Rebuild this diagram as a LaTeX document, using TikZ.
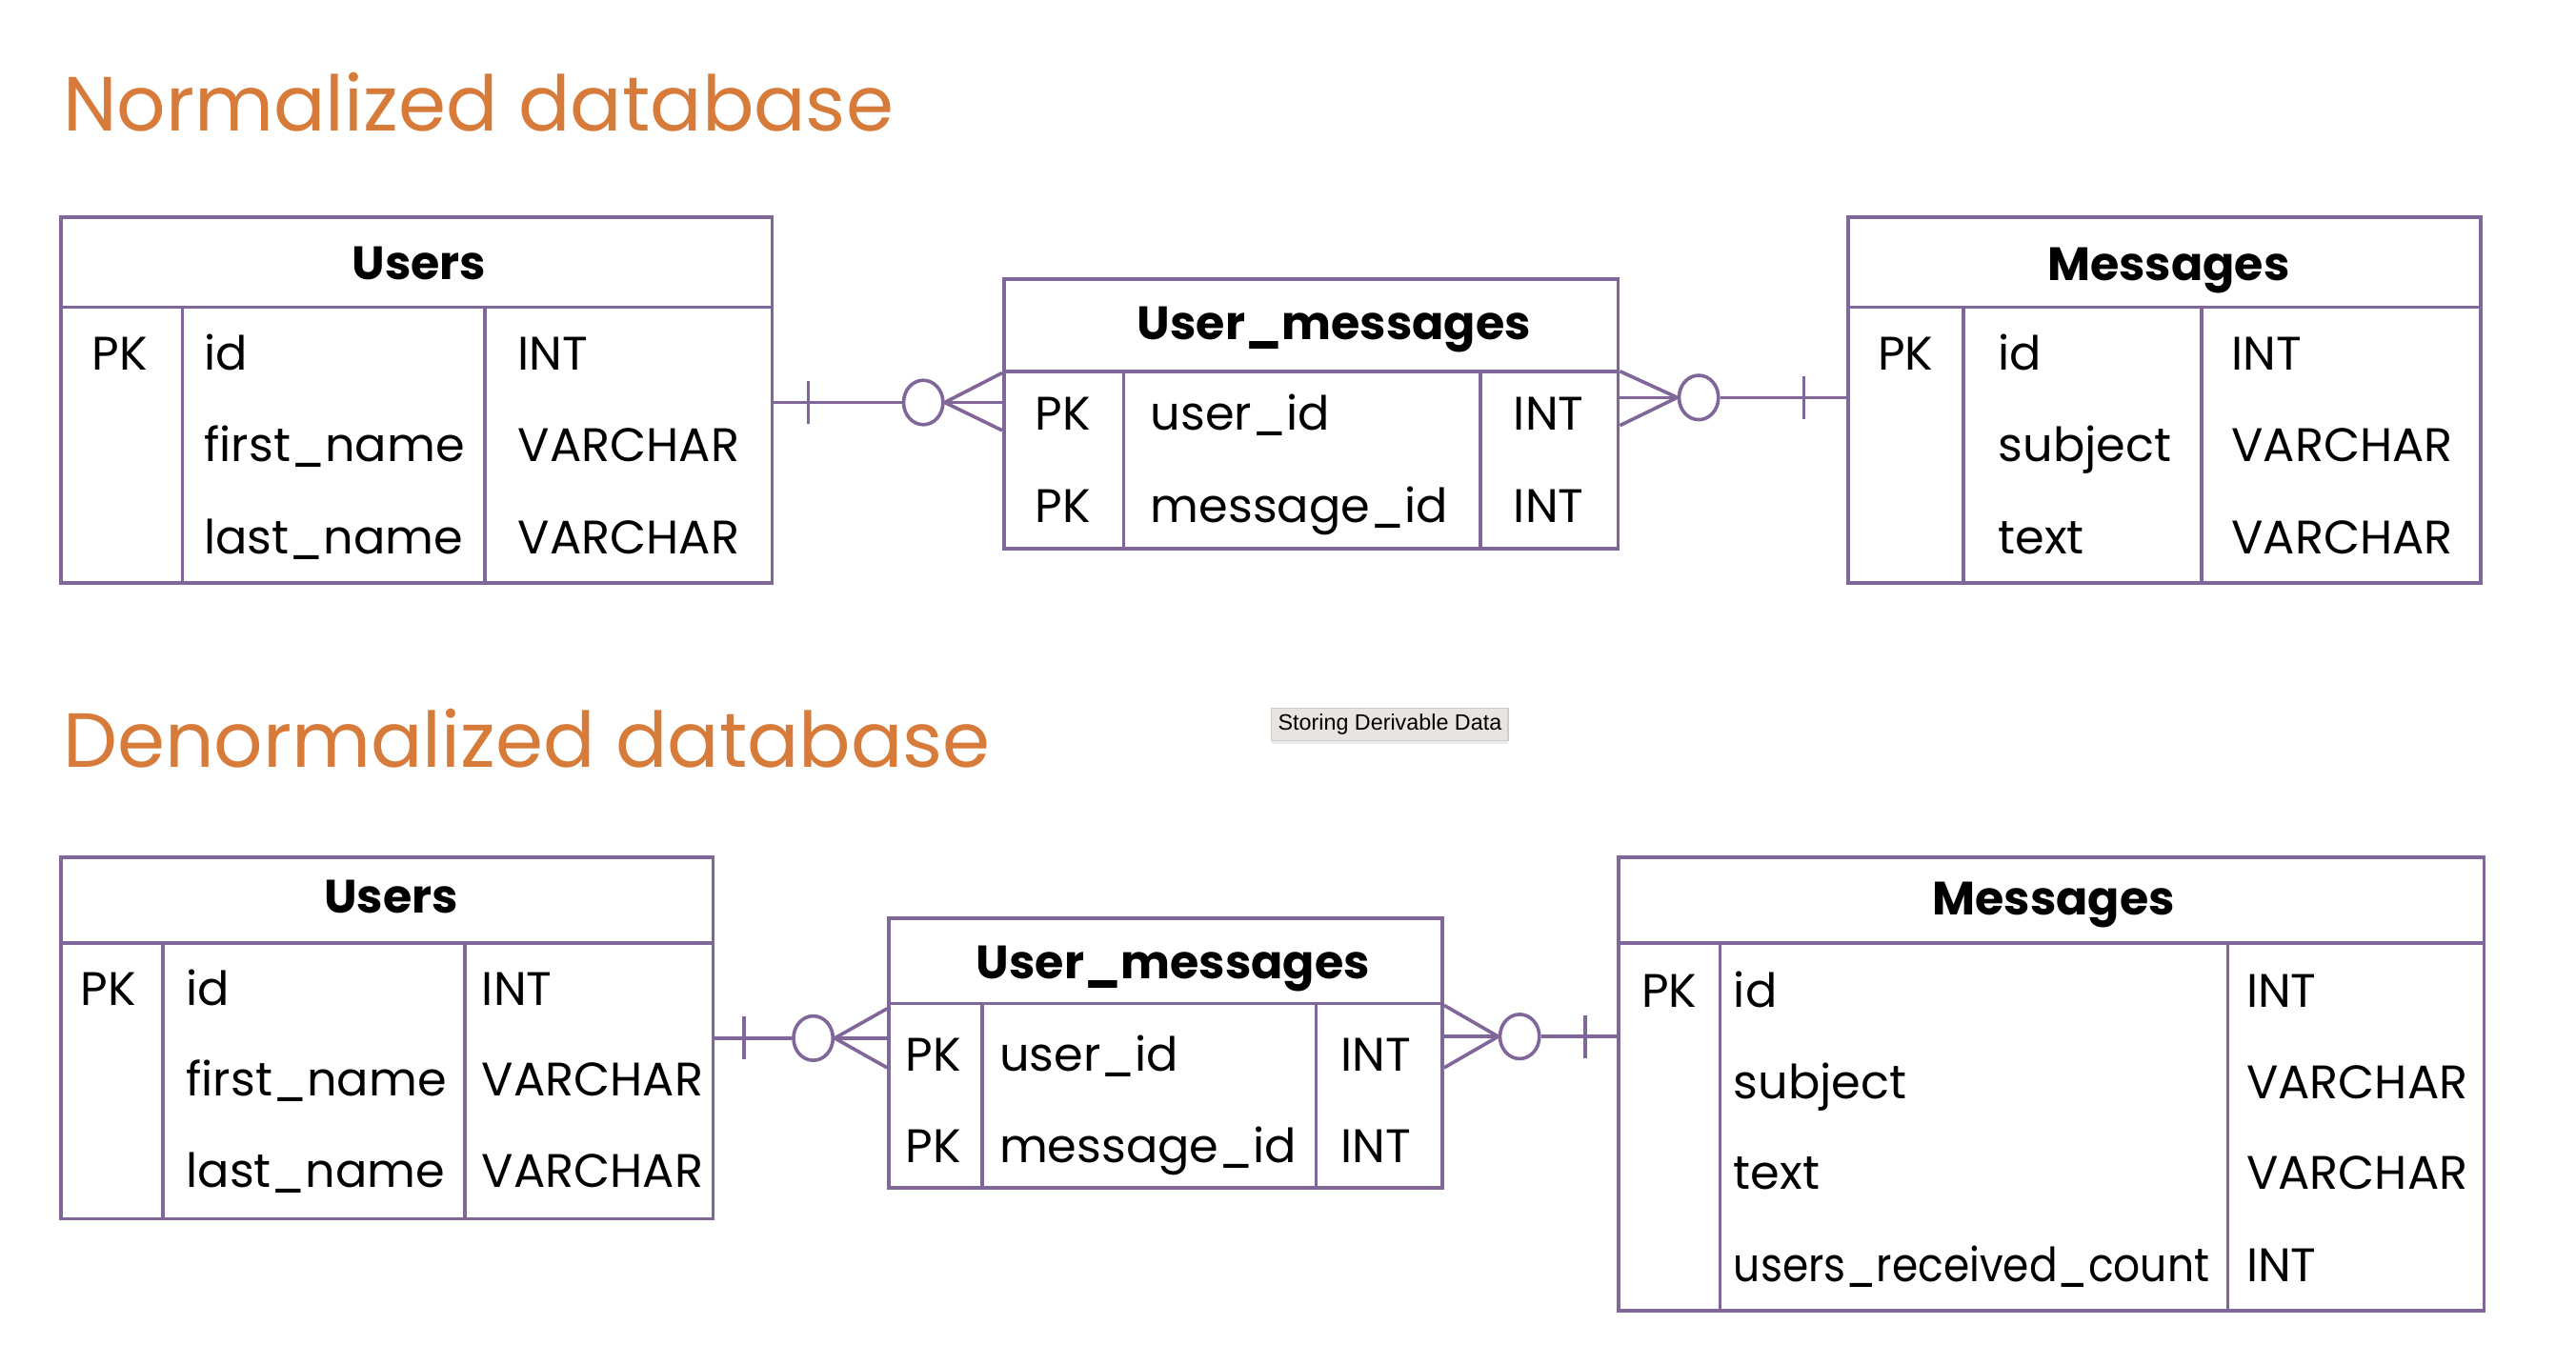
\documentclass[tikz,border=0pt]{standalone}
\usepackage{fontspec}
\setmainfont{Poppins}
\newfontfamily\tipfont{Liberation Sans}
\usetikzlibrary{calc, positioning, shapes.geometric, shadows}
\definecolor{erline}{RGB}{128,103,153}
\definecolor{ertitle}{RGB}{214,123,58}
\definecolor{tipgray}{RGB}{232,228,226}
\definecolor{tipedge}{RGB}{208,203,201}

\begin{document}
\begin{tikzpicture}[x=0.02cm, y=-0.02cm,
			l_e/.style={draw=erline, line width=1.2pt},
			tab/.style={l_e, anchor=north west, inner sep=0pt},
			hd/.style={font=\fontsize{16.2}{19}\selectfont\bfseries, anchor=base, inner sep=0pt},
			fld/.style={font=\fontsize{16.3}{19}\selectfont, anchor=base west, inner sep=0pt},
			key/.style={font=\fontsize{16.3}{19}\selectfont, anchor=base, inner sep=0pt},
			ring/.style={ellipse, l_e, fill=white, minimum width=0.48cm, minimum height=0.54cm, inner sep=0pt},
			ttl/.style={font=\fontsize{26.6}{32}\selectfont, text=ertitle, anchor=base west, inner sep=0pt},
			tip/.style={fill=tipgray, draw=tipedge, line width=0.4pt, minimum width=2.88cm, minimum height=0.4cm, inner sep=0pt,
				font=\tipfont\fontsize{7.7}{9}\selectfont, drop shadow={shadow xshift=0pt, shadow yshift=-1pt, opacity=0.15}}]
			\useasboundingbox (0,0) rectangle (1568,830.4);
			
			% normalized database
			\node[ttl] (t1) at (38,80) {Normalized database};
			
			% users
			\node[tab, minimum width=8.66cm, minimum height=4.46cm] (nu) at (36,131) {};
			\draw[l_e] (36,187) -- (469,187);
			\draw[l_e] (111,187) -- (111,354);
			\draw[l_e] (295,187) -- (295,354);
			\node[hd] (nu-h) at (255,170) {Users};
			\node[key] (nu-k) at (73,225) {PK};
			\foreach \f/\t/\y [count=\p] in {id/INT/225, first\_name/VARCHAR/281, last\_name/VARCHAR/337} {
				\node[fld] (nu-f\p) at (124,\y) {\f};
				\node[fld] (nu-t\p) at (315,\y) {\t};
			};
			
			% user_messages
			\node[tab, minimum width=7.48cm, minimum height=3.28cm] (num) at (610,169) {};
			\draw[l_e] (610,226) -- (984,226);
			\draw[l_e] (684,226) -- (684,333);
			\draw[l_e] (901,226) -- (901,333);
			\node[hd] (num-h) at (812,207) {User\_messages};
			\foreach \f/\y [count=\p] in {user\_id/262, message\_id/318} {
				\node[key] (num-k\p) at (647,\y) {PK};
				\node[fld] (num-f\p) at (700,\y) {\f};
				\node[fld] (num-t\p) at (921,\y) {INT};
			};
			
			% messages
			\node[tab, minimum width=7.70cm, minimum height=4.46cm] (nm) at (1124,131) {};
			\draw[l_e] (1124,187) -- (1511,187);
			\draw[l_e] (1195,187) -- (1195,354);
			\draw[l_e] (1340,187) -- (1340,354);
			\node[hd] (nm-h) at (1320,171) {Messages};
			\node[key] (nm-k) at (1160,225) {PK};
			\foreach \f/\t/\y [count=\p] in {id/INT/225, subject/VARCHAR/281, text/VARCHAR/337} {
				\node[fld] (nm-f\p) at (1216,\y) {\f};
				\node[fld] (nm-t\p) at (1358,\y) {\t};
			};
			
			% relations
			\node[ring] (r1) at (562,245) {};
			\draw[l_e] (nu.east |- r1) -- (r1.west);
			\draw[l_e] ($(nu.east |- r1)+(21,-13)$) -- ++(0,26);
			\draw[l_e] (r1.east) -- ($(num.west |- r1)+(0,-18)$);
			\draw[l_e] (r1.east) -- (num.west |- r1);
			\draw[l_e] (r1.east) -- ($(num.west |- r1)+(0,17)$);
			
			\node[ring] (r2) at (1034,242) {};
			\draw[l_e] ($(num.east |- r2)+(0,-16)$) -- (r2.west);
			\draw[l_e] (num.east |- r2) -- (r2.west);
			\draw[l_e] ($(num.east |- r2)+(0,17)$) -- (r2.west);
			\draw[l_e] (r2.east) -- (nm.west |- r2);
			\draw[l_e] ($(nm.west |- r2)+(-26,-13)$) -- ++(0,26);
			
			% denormalized database
			\node[ttl] (t2) at (38,467) {Denormalized database};
			\node[tip] (tip) at (846,441) {Storing Derivable Data};
			
			% users
			\node[tab, minimum width=7.94cm, minimum height=4.40cm] (du) at (36,521) {};
			\draw[l_e] (36,574) -- (433,574);
			\draw[l_e] (99,574) -- (99,741);
			\draw[l_e] (283,574) -- (283,741);
			\node[hd] (du-h) at (238,556) {Users};
			\node[key] (du-k) at (66,612) {PK};
			\foreach \f/\t/\y [count=\p] in {id/INT/612, first\_name/VARCHAR/667, last\_name/VARCHAR/723} {
				\node[fld] (du-f\p) at (113,\y) {\f};
				\node[fld] (du-t\p) at (293,\y) {\t};
			};
			
			% user_messages
			\node[tab, minimum width=6.74cm, minimum height=3.28cm] (dum) at (540,558) {};
			\draw[l_e] (540,611) -- (877,611);
			\draw[l_e] (598,611) -- (598,722);
			\draw[l_e] (801,611) -- (801,722);
			\node[hd] (dum-h) at (714,596) {User\_messages};
			\foreach \f/\y [count=\p] in {user\_id/652, message\_id/708} {
				\node[key] (dum-k\p) at (568,\y) {PK};
				\node[fld] (dum-f\p) at (608,\y) {\f};
				\node[fld] (dum-t\p) at (816,\y) {INT};
			};
			
			% messages
			\node[tab, minimum width=10.54cm, minimum height=5.52cm] (dm) at (984,521) {};
			\draw[l_e] (984,574) -- (1511,574);
			\draw[l_e] (1047,574) -- (1047,797);
			\draw[l_e] (1356,574) -- (1356,797);
			\node[hd] (dm-h) at (1250,557) {Messages};
			\node[key] (dm-k) at (1016,613) {PK};
			\foreach \f/\t/\y [count=\p] in {id/INT/613, subject/VARCHAR/669, text/VARCHAR/724, \scalebox{0.89}[1]{users\_received\_count}/INT/780} {
				\node[fld] (dm-f\p) at (1055,\y) {\f};
				\node[fld] (dm-t\p) at (1367,\y) {\t};
			};
			
			% relations
			\node[ring] (r3) at (495,632) {};
			\draw[l_e] (du.east |- r3) -- (r3.west);
			\draw[l_e] ($(du.east |- r3)+(18,-13)$) -- ++(0,26);
			\draw[l_e] (r3.east) -- ($(dum.west |- r3)+(0,-18)$);
			\draw[l_e] (r3.east) -- (dum.west |- r3);
			\draw[l_e] (r3.east) -- ($(dum.west |- r3)+(0,18)$);
			
			\node[ring] (r4) at (925,631) {};
			\draw[l_e] ($(dum.east |- r4)+(0,-19)$) -- (r4.west);
			\draw[l_e] (dum.east |- r4) -- (r4.west);
			\draw[l_e] ($(dum.east |- r4)+(0,19)$) -- (r4.west);
			\draw[l_e] (r4.east) -- (dm.west |- r4);
			\draw[l_e] ($(dm.west |- r4)+(-19,-13)$) -- ++(0,26);
		\end{tikzpicture}
\end{document}
